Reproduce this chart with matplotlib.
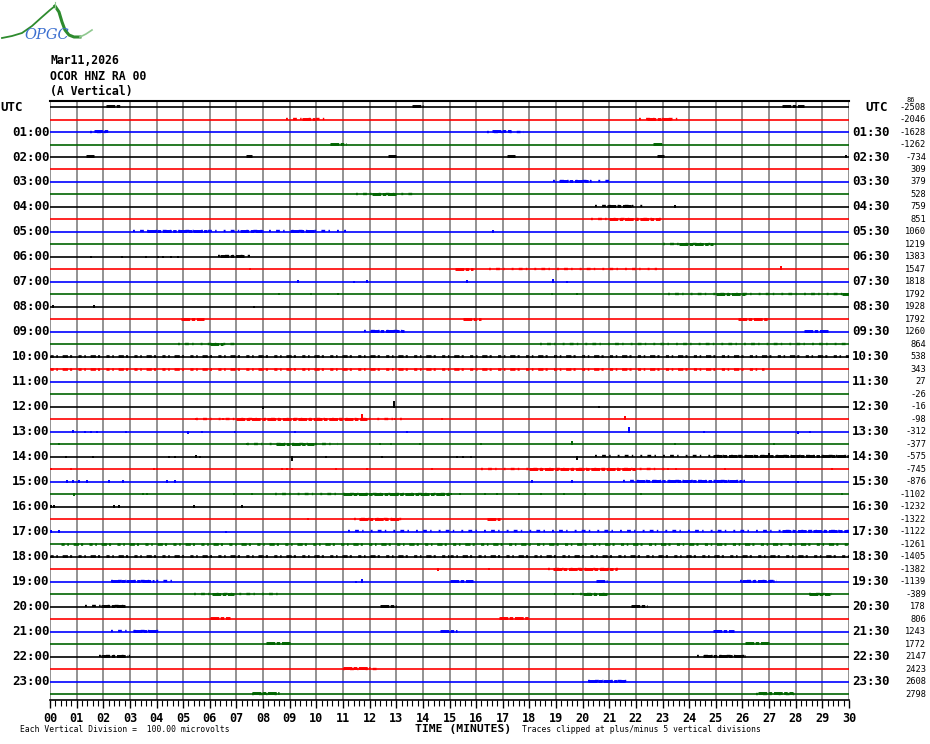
import matplotlib
matplotlib.use("Agg")
import matplotlib.pyplot as plt
from matplotlib import transforms
from matplotlib.ticker import MultipleLocator

# helicorder page, one trace per 30 min, x in minutes
header = ["Mar11,2026", "OCOR HNZ RA 00", "(A Vertical)"]
n_rows = 48
minutes = list(range(31))
left_labels = ["UTC"] + ["%02d:00" % h for h in range(1, 24)]
right_labels = ["UTC"] + ["%02d:30" % h for h in range(1, 24)]
offsets = [-2508, -2046, -1628, -1262, -734, 309, 379, 528, 759, 851, 1060, 1219,
           1383, 1547, 1818, 1792, 1928, 1792, 1260, 864, 538, 343, 27, -26,
           -16, -98, -312, -377, -575, -745, -876, -1102, -1232, -1322, -1122, -1261,
           -1405, -1382, -1139, -389, 178, 806, 1243, 1772, 2147, 2423, 2608, 2798]
trace_colors = ["#000000", "#ff0000", "#0000ff", "#006400"]

# (row, start min, end min) strong bursts
bursts = [(0, 2.1, 2.65), (0, 13.6, 14.0), (0, 27.5, 28.3),
          (1, 9.45, 9.95), (1, 22.4, 23.3), (2, 1.65, 2.2), (2, 16.6, 17.3),
          (3, 10.5, 11.1), (3, 22.65, 23.0),
          (4, 1.35, 1.65), (4, 7.35, 7.6), (4, 12.7, 13.0), (4, 17.15, 17.45), (4, 22.8, 23.05),
          (6, 19.1, 20.3), (7, 12.1, 13.0), (8, 20.9, 21.9), (9, 21.0, 22.9),
          (10, 3.65, 6.0), (10, 7.15, 8.0), (10, 9.0, 9.9), (11, 23.6, 24.9),
          (12, 6.4, 7.3), (13, 15.2, 15.9), (15, 25.0, 26.1), (15, 29.75, 30.0),
          (17, 4.9, 5.8), (17, 15.5, 16.2), (17, 25.85, 26.95),
          (18, 12.0, 13.3), (18, 28.3, 29.2), (19, 6.0, 6.5),
          (25, 7.0, 11.9), (27, 8.5, 9.9), (28, 24.9, 30.0), (29, 18.0, 22.0),
          (30, 22.0, 26.0), (31, 11.0, 15.0), (33, 11.6, 13.1), (33, 16.4, 16.9),
          (34, 27.5, 30.0), (37, 18.9, 21.3),
          (38, 2.3, 3.9), (38, 15.0, 15.9), (38, 20.5, 20.9), (38, 26.0, 27.2),
          (39, 6.1, 6.9), (39, 20.0, 20.9), (39, 28.5, 29.3),
          (40, 1.9, 2.8), (40, 12.4, 13.0), (40, 21.8, 22.4),
          (41, 6.0, 6.75), (41, 16.85, 18.0),
          (42, 3.1, 4.0), (42, 14.65, 15.3), (42, 24.9, 25.7),
          (43, 8.1, 9.0), (43, 26.1, 27.0), (44, 1.9, 2.9), (44, 24.5, 26.1),
          (45, 11.0, 12.0), (46, 20.2, 21.6), (47, 7.6, 8.6), (47, 26.6, 27.9)]

# (row, start min, end min) scattered small wiggles
sparse = [(1, 8.85, 10.5), (1, 22.1, 23.65), (2, 1.5, 2.2), (2, 16.4, 17.8),
          (6, 18.9, 21.0), (7, 11.5, 13.65), (8, 20.45, 22.3), (9, 20.3, 23.0),
          (10, 3.1, 11.1), (11, 23.0, 25.0), (12, 6.3, 7.5), (13, 16.5, 22.8),
          (15, 23.2, 30.0), (18, 11.8, 13.3), (19, 4.8, 7.0), (19, 18.4, 30.0),
          (25, 5.5, 13.3), (27, 7.4, 10.8), (28, 20.45, 30.0), (29, 16.2, 23.2),
          (30, 21.5, 26.1), (31, 8.45, 15.0), (33, 11.4, 13.2), (34, 11.2, 30.0),
          (37, 18.7, 21.35), (38, 2.3, 4.65), (38, 25.9, 27.3),
          (39, 5.4, 8.6), (39, 19.9, 20.9), (39, 28.5, 29.35), (40, 1.3, 2.9),
          (42, 2.3, 4.1), (44, 1.85, 3.0), (44, 24.3, 26.2), (45, 11.0, 12.3),
          (46, 20.2, 21.7), (47, 7.6, 8.6), (47, 26.5, 28.0)]

# (row, start min, end min) noisy traces
noisy = [(20, 0.0, 30.0), (21, 0.0, 26.8), (35, 0.4, 30.0), (36, 0.0, 15.0), (36, 15.0, 30.0)]

# (row, minute, height in divisions) single spikes
spikes = [(4, 29.9, 0.15), (8, 23.45, 0.12), (10, 16.65, 0.12),
          (12, 1.55, 0.1), (12, 2.7, 0.1), (12, 3.6, 0.1), (12, 4.05, 0.1), (12, 4.25, 0.1),
          (12, 4.55, 0.1), (12, 4.8, 0.1), (13, 7.5, 0.12), (13, 27.45, 0.3),
          (14, 9.3, 0.12), (14, 11.4, 0.1), (14, 11.9, 0.12), (14, 15.65, 0.12),
          (14, 18.9, 0.2), (14, 19.4, 0.1), (15, 8.6, 0.12), (15, 9.8, 0.12),
          (15, 10.8, 0.15), (15, 18.85, 0.1), (15, 19.8, 0.1),
          (16, 0.1, 0.12), (16, 1.65, 0.12), (16, 7.65, 0.1),
          (24, 8.0, -0.15), (24, 12.9, 0.45), (24, 20.6, 0.1),
          (25, 5.5, 0.1), (25, 5.85, 0.1), (25, 6.5, 0.1), (25, 11.7, 0.4), (25, 12.95, 0.12),
          (25, 14.7, 0.1), (25, 21.6, 0.25),
          (26, 0.85, 0.12), (26, 1.3, 0.1), (26, 1.55, 0.1), (26, 1.75, 0.1), (26, 2.85, 0.1),
          (26, 5.2, -0.15), (26, 5.7, 0.1), (26, 6.95, 0.1), (26, 9.2, 0.1), (26, 13.4, 0.1),
          (26, 21.75, 0.35), (26, 24.55, 0.1), (26, 28.1, -0.15), (26, 28.55, 0.1),
          (27, 0.35, 0.1), (27, 7.4, 0.1), (27, 7.7, 0.1), (27, 12.4, 0.1), (27, 12.8, 0.1),
          (27, 13.9, 0.1), (27, 16.2, 0.1), (27, 19.0, 0.1), (27, 19.6, 0.3), (27, 23.45, 0.1),
          (27, 27.2, 0.1),
          (28, 0.6, 0.1), (28, 1.6, 0.1), (28, 4.45, 0.1), (28, 4.7, 0.1), (28, 5.5, 0.15),
          (28, 5.65, 0.1), (28, 9.1, -0.3), (28, 10.35, 0.1), (28, 12.45, 0.1),
          (28, 15.3, 0.1), (28, 15.5, 0.1), (28, 15.8, -0.12), (28, 19.8, -0.25), (28, 27.0, 0.3),
          (29, 0.05, 0.1), (29, 0.8, 0.1), (29, 3.9, 0.12), (29, 4.0, 0.12), (29, 8.7, 0.1),
          (29, 8.9, 0.1), (29, 9.1, 0.12), (29, 10.75, 0.1), (29, 11.9, 0.12), (29, 14.35, 0.1),
          (29, 23.2, 0.1), (29, 23.5, 0.1), (29, 25.35, 0.1), (29, 29.35, 0.1),
          (30, 0.65, 0.1), (30, 0.85, 0.1), (30, 1.1, 0.1), (30, 1.4, 0.1), (30, 2.2, 0.1),
          (30, 2.75, 0.1), (30, 4.4, 0.1), (30, 4.7, 0.1), (30, 18.1, 0.1), (30, 19.6, 0.1),
          (30, 28.1, -0.12),
          (31, 0.9, -0.12), (31, 3.5, 0.12), (31, 3.65, 0.12), (31, 6.9, 0.1), (31, 7.6, 0.1),
          (31, 15.05, 0.1), (31, 15.4, 0.1), (31, 16.35, 0.1), (31, 16.8, 0.1), (31, 17.6, 0.1),
          (31, 18.45, 0.1), (31, 19.3, 0.1), (31, 20.1, 0.1), (31, 22.2, 0.1), (31, 29.75, 0.12),
          (32, 0.05, 0.1), (32, 0.15, 0.1), (32, 2.4, 0.1), (32, 2.6, 0.1), (32, 5.4, 0.1),
          (32, 7.2, 0.1), (33, 9.7, -0.1), (34, 0.05, 0.1), (34, 0.35, 0.1), (34, 6.6, -0.12),
          (37, 14.55, -0.12), (37, 16.5, 0.1), (38, 11.5, -0.12), (38, 11.7, 0.2),
          (39, 18.95, 0.1), (39, 19.65, 0.1)]

mono = "DejaVu Sans Mono"
fig = plt.figure(figsize=(9.3, 7.44), dpi=100)
W, H = 930.0, 744.0
ax = fig.add_axes([50 / W, 1 - 700.3 / H, 799 / W, 599.5 / H])
ax.set_xlim(0, 30)
ax.set_ylim(n_rows - 0.5, -0.5)

ax.grid(True, axis="x", color="#808080", lw=1.2, zorder=0)
for s in ["left", "right"]:
    ax.spines[s].set_visible(False)
ax.spines["top"].set_linewidth(1.5)
ax.spines["bottom"].set_linewidth(1.2)

for r in range(n_rows):
    ax.hlines(r, 0, 30, color=trace_colors[r % 4], lw=1.2, zorder=2)

for r, t0, t1 in sparse:
    ax.hlines(r - 0.04, t0, t1, color=trace_colors[r % 4], lw=1.7,
              linestyles=(0, (0.8, 2.2, 1.6, 1.4, 0.6, 3.0)), zorder=3)
for r, t0, t1 in noisy:
    ax.hlines(r - 0.03, t0, t1, color=trace_colors[r % 4], lw=1.9,
              linestyles=(0, (1.2, 1.0, 0.6, 1.8, 2.0, 0.8, 0.8, 2.4)), zorder=3)
for r, t0, t1 in bursts:
    ax.hlines(r - 0.05, t0, t1, color=trace_colors[r % 4], lw=2.1,
              linestyles=(0, (3.0, 0.5, 1.2, 0.6)), zorder=3)
for r, t, h in spikes:
    ax.vlines(t, r - max(h, 0.08), r + max(-h, 0.08), color=trace_colors[r % 4], lw=1.4, zorder=3)

ax.set_xticks(minutes)
ax.set_xticklabels(["%02d" % m for m in minutes], fontfamily=mono,
                   fontweight="bold", fontsize=8.5)
ax.xaxis.set_minor_locator(MultipleLocator(0.2))
ax.tick_params(axis="x", which="major", length=5.5, width=1, direction="out", pad=3)
ax.tick_params(axis="x", which="minor", length=4, width=0.8, direction="out")
ax.set_yticks([])

left_tr = transforms.blended_transform_factory(fig.transFigure, ax.transData)
for i, lab in enumerate(left_labels):
    x0 = 0 if lab == "UTC" else 12
    ax.text(x0 / W, 2 * i, lab, transform=left_tr, fontfamily=mono, fontweight="bold",
            fontsize=9, va="center", ha="left")
for i, lab in enumerate(right_labels):
    x0 = 865 if lab == "UTC" else 852
    ax.text(x0 / W, 2 * i, lab, transform=left_tr, fontfamily=mono, fontweight="bold",
            fontsize=9, va="center", ha="left")
for r, v in enumerate(offsets):
    ax.text(926 / W, r, str(v), transform=left_tr, fontfamily=mono, fontsize=6.3,
            va="center", ha="right")
fig.text(906 / W, 1 - 100 / H, "86", fontfamily=mono, fontsize=5.0, va="center", ha="left")

for i, line in enumerate(header):
    fig.text(50 / W, 1 - (61 + 15 * i) / H, line, fontfamily=mono, fontweight="bold",
             fontsize=8.3, va="center", ha="left")

fig.text(20 / W, 1 - 730 / H, "Each Vertical Division =  100.00 microvolts",
         fontfamily=mono, fontsize=5.8, va="center", ha="left")
fig.text(415 / W, 1 - 729 / H, "TIME (MINUTES)", fontfamily=mono, fontweight="bold",
         fontsize=8.2, va="center", ha="left")
fig.text(522 / W, 1 - 730 / H, "Traces clipped at plus/minus 5 vertical divisions",
         fontfamily=mono, fontsize=5.8, va="center", ha="left")

# OPGC logo
lg = fig.add_axes([0, 1 - 45 / H, 100 / W, 45 / H])
lg.set_xlim(0, 100)
lg.set_ylim(45, 0)
lg.axis("off")
lg.plot([2, 12, 22, 32, 42, 50, 55], [38, 36, 33, 26, 17, 10, 6], color="#2e8b2e", lw=1.3)
lg.plot([55, 59, 62, 65, 69, 74, 80], [6, 12, 22, 30, 35, 37, 37], color="#2e8b2e", lw=2.2)
lg.plot([80, 86, 92], [37, 34, 30], color="#8fc88f", lw=1.2)
lg.plot([55, 55], [2, 8], color="#8fc88f", lw=0.8)
lg.text(47, 35, "OPGC", color="#3b6fd0", fontsize=10.5, style="italic", family="DejaVu Serif",
        ha="center", va="center")

fig.savefig("out.png", dpi=100)
